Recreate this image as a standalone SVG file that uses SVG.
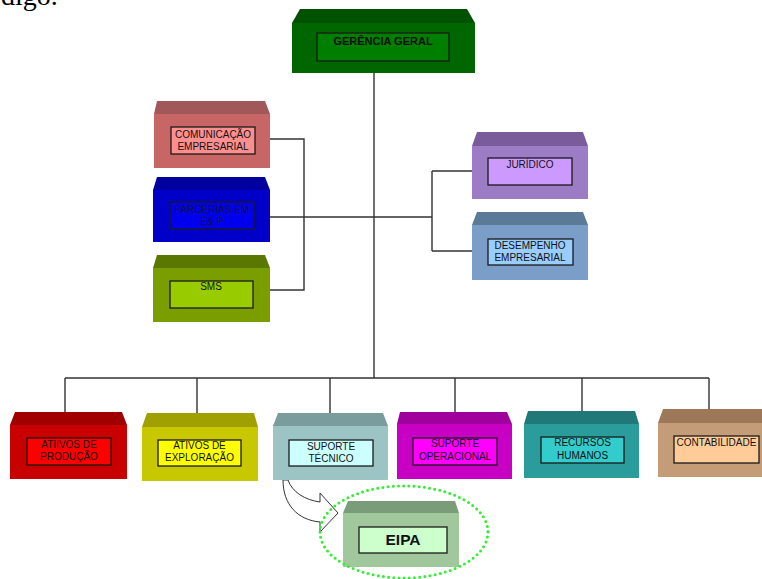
<svg xmlns="http://www.w3.org/2000/svg" width="762" height="579" viewBox="0 0 762 579">
<style>
.inner{stroke:#1a1a1a;stroke-width:1.3}
.t{font-family:"Liberation Sans",Arial,sans-serif;font-size:10px;fill:#111;text-anchor:middle}
.b{font-weight:bold}
.conn{stroke:#333;stroke-width:1.4;fill:none}
</style>
<rect width="762" height="579" fill="#ffffff"/>
<text x="1" y="5" font-family="Liberation Serif,serif" font-size="28" fill="#000">digo.</text>

<g id="connectors">
<path class="conn" d="M374 73V378M65 378H709M65 378V412M197 378V413M330 378V413M455 378V412M582 378V411M709 378V409"/>
<path class="conn" d="M270 139H304V290H270M270 217H432M432 171V251M432 171H472M432 251H472"/>
<path d="M288 480C292 492 305 500 320 502L320 493L338 513L320 532L320 522C298 520 283 505 283 480Z" fill="#fff" stroke="#333" stroke-width="1"/>
</g>

<g id="gerencia">
<polygon points="300,9 467,9 475,23 292,23" fill="#005200"/>
<rect x="292" y="23" width="183" height="50" fill="#006600"/>
<rect class="inner" x="317" y="33" width="132" height="28" fill="#007e00"/>
<text class="t b" x="383" y="45" style="font-size:11px">GERÊNCIA GERAL</text>
</g>

<g id="comunicacao">
<polygon points="157,101 265,101 270,114 154,114" fill="#a05858"/>
<rect x="154" y="114" width="116" height="54" fill="#c86666"/>
<rect class="inner" x="171" y="127" width="84" height="27" fill="#ff8e8e"/>
<text class="t" x="213" y="138">COMUNICAÇÃO</text>
<text class="t" x="213" y="150">EMPRESARIAL</text>
</g>

<g id="parcerias">
<polygon points="157,177 265,177 270,190 153,190" fill="#0000a0"/>
<rect x="153" y="190" width="117" height="52" fill="#0000c8"/>
<rect class="inner" x="170" y="202" width="84" height="27" fill="#0000ee"/>
<text class="t" x="212" y="213" style="fill:#10103a">PARCERIAS EM</text>
<text class="t" x="212" y="225" style="fill:#10103a">E&amp; P</text>
</g>

<g id="sms">
<polygon points="157,255 265,255 270,268 153,268" fill="#5a7800"/>
<rect x="153" y="268" width="117" height="54" fill="#7a9e00"/>
<rect class="inner" x="170" y="281" width="83" height="27" fill="#99cc00"/>
<text class="t" x="211" y="290">SMS</text>
</g>

<g id="juridico">
<polygon points="477,132 583,132 588,146 472,146" fill="#7a5c9a"/>
<rect x="472" y="146" width="116" height="53" fill="#9c7cc4"/>
<rect class="inner" x="488" y="158" width="84" height="27" fill="#cc99ff"/>
<text class="t" x="530" y="168">JURÍDICO</text>
</g>

<g id="desempenho">
<polygon points="477,212 583,212 588,225 472,225" fill="#5a7a98"/>
<rect x="472" y="225" width="116" height="55" fill="#7a9ec8"/>
<rect class="inner" x="488" y="239" width="85" height="26" fill="#99ccff"/>
<text class="t" x="530" y="249">DESEMPENHO</text>
<text class="t" x="530" y="261">EMPRESARIAL</text>
</g>

<g id="ativos-producao">
<polygon points="15,412 122,412 127,425 10,425" fill="#a00000"/>
<rect x="10" y="425" width="117" height="54" fill="#c80000"/>
<rect class="inner" x="27" y="438" width="84" height="27" fill="#ff0000"/>
<text class="t" x="69" y="448">ATIIVOS DE</text>
<text class="t" x="69" y="460">PRODUÇÃO</text>
</g>

<g id="ativos-exploracao">
<polygon points="147,413 254,413 258,427 142,427" fill="#a0a000"/>
<rect x="142" y="427" width="116" height="54" fill="#c8c800"/>
<rect class="inner" x="158" y="440" width="83" height="26" fill="#ffff00"/>
<text class="t" x="199.5" y="449">ATIVOS DE</text>
<text class="t" x="199.5" y="461">EXPLORAÇÃO</text>
</g>

<g id="suporte-tecnico">
<polygon points="278,413 383,413 388,426 273,426" fill="#7a9c9c"/>
<rect x="273" y="426" width="115" height="54" fill="#9cc4c4"/>
<rect class="inner" x="289" y="440" width="84" height="26" fill="#ccffff"/>
<text class="t" x="331" y="450">SUPORTE</text>
<text class="t" x="331" y="462">TÉCNICO</text>
</g>

<g id="suporte-operacional">
<polygon points="400,412 507,412 512,424 397,424" fill="#a0009c"/>
<rect x="397" y="424" width="115" height="55" fill="#c800c4"/>
<rect class="inner" x="413" y="438" width="84" height="27" fill="#ff00ff"/>
<text class="t" x="455" y="447">SUPORTE</text>
<text class="t" x="455" y="460">OPERACIONAL</text>
</g>

<g id="recursos-humanos">
<polygon points="528,411 635,411 639,424 524,424" fill="#217878"/>
<rect x="524" y="424" width="115" height="54" fill="#2a9c9c"/>
<rect class="inner" x="541" y="437" width="83" height="26" fill="#33cccc"/>
<text class="t" x="582.5" y="446">RECURSOS</text>
<text class="t" x="582.5" y="459">HUMANOS</text>
</g>

<g id="contabilidade">
<polygon points="663,409 770,409 775,423 658,423" fill="#9c7858"/>
<rect x="658" y="423" width="117" height="54" fill="#c49c78"/>
<rect class="inner" x="674" y="436" width="85" height="27" fill="#ffcc99"/>
<text class="t" x="716.5" y="446">CONTABILIDADE</text>
</g>

<g id="eipa">
<polygon points="348,501 455,501 459,513 343,513" fill="#7a9c78"/>
<rect x="343" y="513" width="116" height="54" fill="#a0c89c"/>
<rect class="inner" x="359" y="527" width="88" height="26" fill="#ccffcc"/>
<text class="t b" x="403" y="545" style="font-size:15.5px">EIPA</text>
</g>

<ellipse id="highlight" cx="404" cy="532" rx="84" ry="46" fill="none" stroke="#33ee33" stroke-width="3" stroke-linecap="round" stroke-dasharray="0 5.2"/>
</svg>
